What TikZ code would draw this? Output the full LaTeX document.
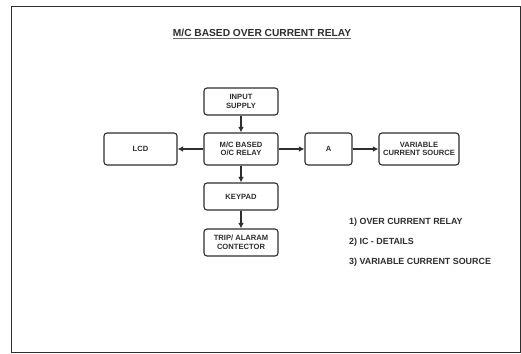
\documentclass[tikz,border=0pt]{standalone}
\usepackage{fontspec}
\setmainfont{Liberation Sans}
\usetikzlibrary{arrows.meta}
\definecolor{ink}{HTML}{2E2E2E}
\tikzset{
  blk/.style={draw=ink, line width=1.1pt, rounded corners=3pt, align=center,
    inner sep=0pt, font=\fontsize{7.6}{8.6}\selectfont\bfseries, text=ink},
  link/.style={draw=ink, line width=1.1pt, -{Latex[length=5.5pt,width=5.5pt]}},
  note/.style={anchor=west, inner sep=0pt, font=\fontsize{8.9}{10}\selectfont\bfseries, text=ink}
}
\begin{document}
\begin{tikzpicture}[x=1pt, y=-1pt]
\useasboundingbox (0,0) rectangle (521,353);
\fill[white] (0,0) rectangle (521,353);
% outer frame
\draw[ink, line width=0.9pt] (11,6) rectangle (520,352);
% heading
\node[inner sep=0pt, font=\fontsize{10.2}{12}\selectfont\bfseries, text=ink] (title) at (262,33) {M/C BASED OVER CURRENT RELAY};
\draw[ink!70, line width=0.8pt] ([yshift=-1.5pt]title.south west) -- ([yshift=-1.5pt]title.south east);
% blocks
\node[blk, minimum width=74pt, minimum height=27pt] (sup) at (241,101.5) {INPUT\\SUPPLY};
\node[blk, minimum width=74pt, minimum height=32pt] (mc) at (241,149) {M/C BASED\\O/C RELAY};
\node[blk, minimum width=73pt, minimum height=32pt] (lcd) at (140.5,149) {LCD};
\node[blk, minimum width=47pt, minimum height=32pt] (a) at (328.5,149) {A};
\node[blk, minimum width=80pt, minimum height=32pt] (vcs) at (419,149) {VARIABLE\\CURRENT SOURCE};
\node[blk, minimum width=74pt, minimum height=27pt] (key) at (241,196.5) {KEYPAD};
\node[blk, minimum width=74pt, minimum height=27pt] (trip) at (241,242.5) {TRIP/ ALARAM\\CONTECTOR};
% connectors
\draw[link] (sup) -- (mc);
\draw[link] (mc) -- (lcd);
\draw[link] (mc) -- (a);
\draw[link] (a) -- (vcs);
\draw[link] (mc) -- (key);
\draw[link] (key) -- (trip);
% list
\node[note] (n1) at (349,222) {1) OVER CURRENT RELAY};
\node[note] (n2) at (349,242) {2) IC - DETAILS};
\node[note] (n3) at (349,262) {3) VARIABLE CURRENT SOURCE};
\end{tikzpicture}
\end{document}
